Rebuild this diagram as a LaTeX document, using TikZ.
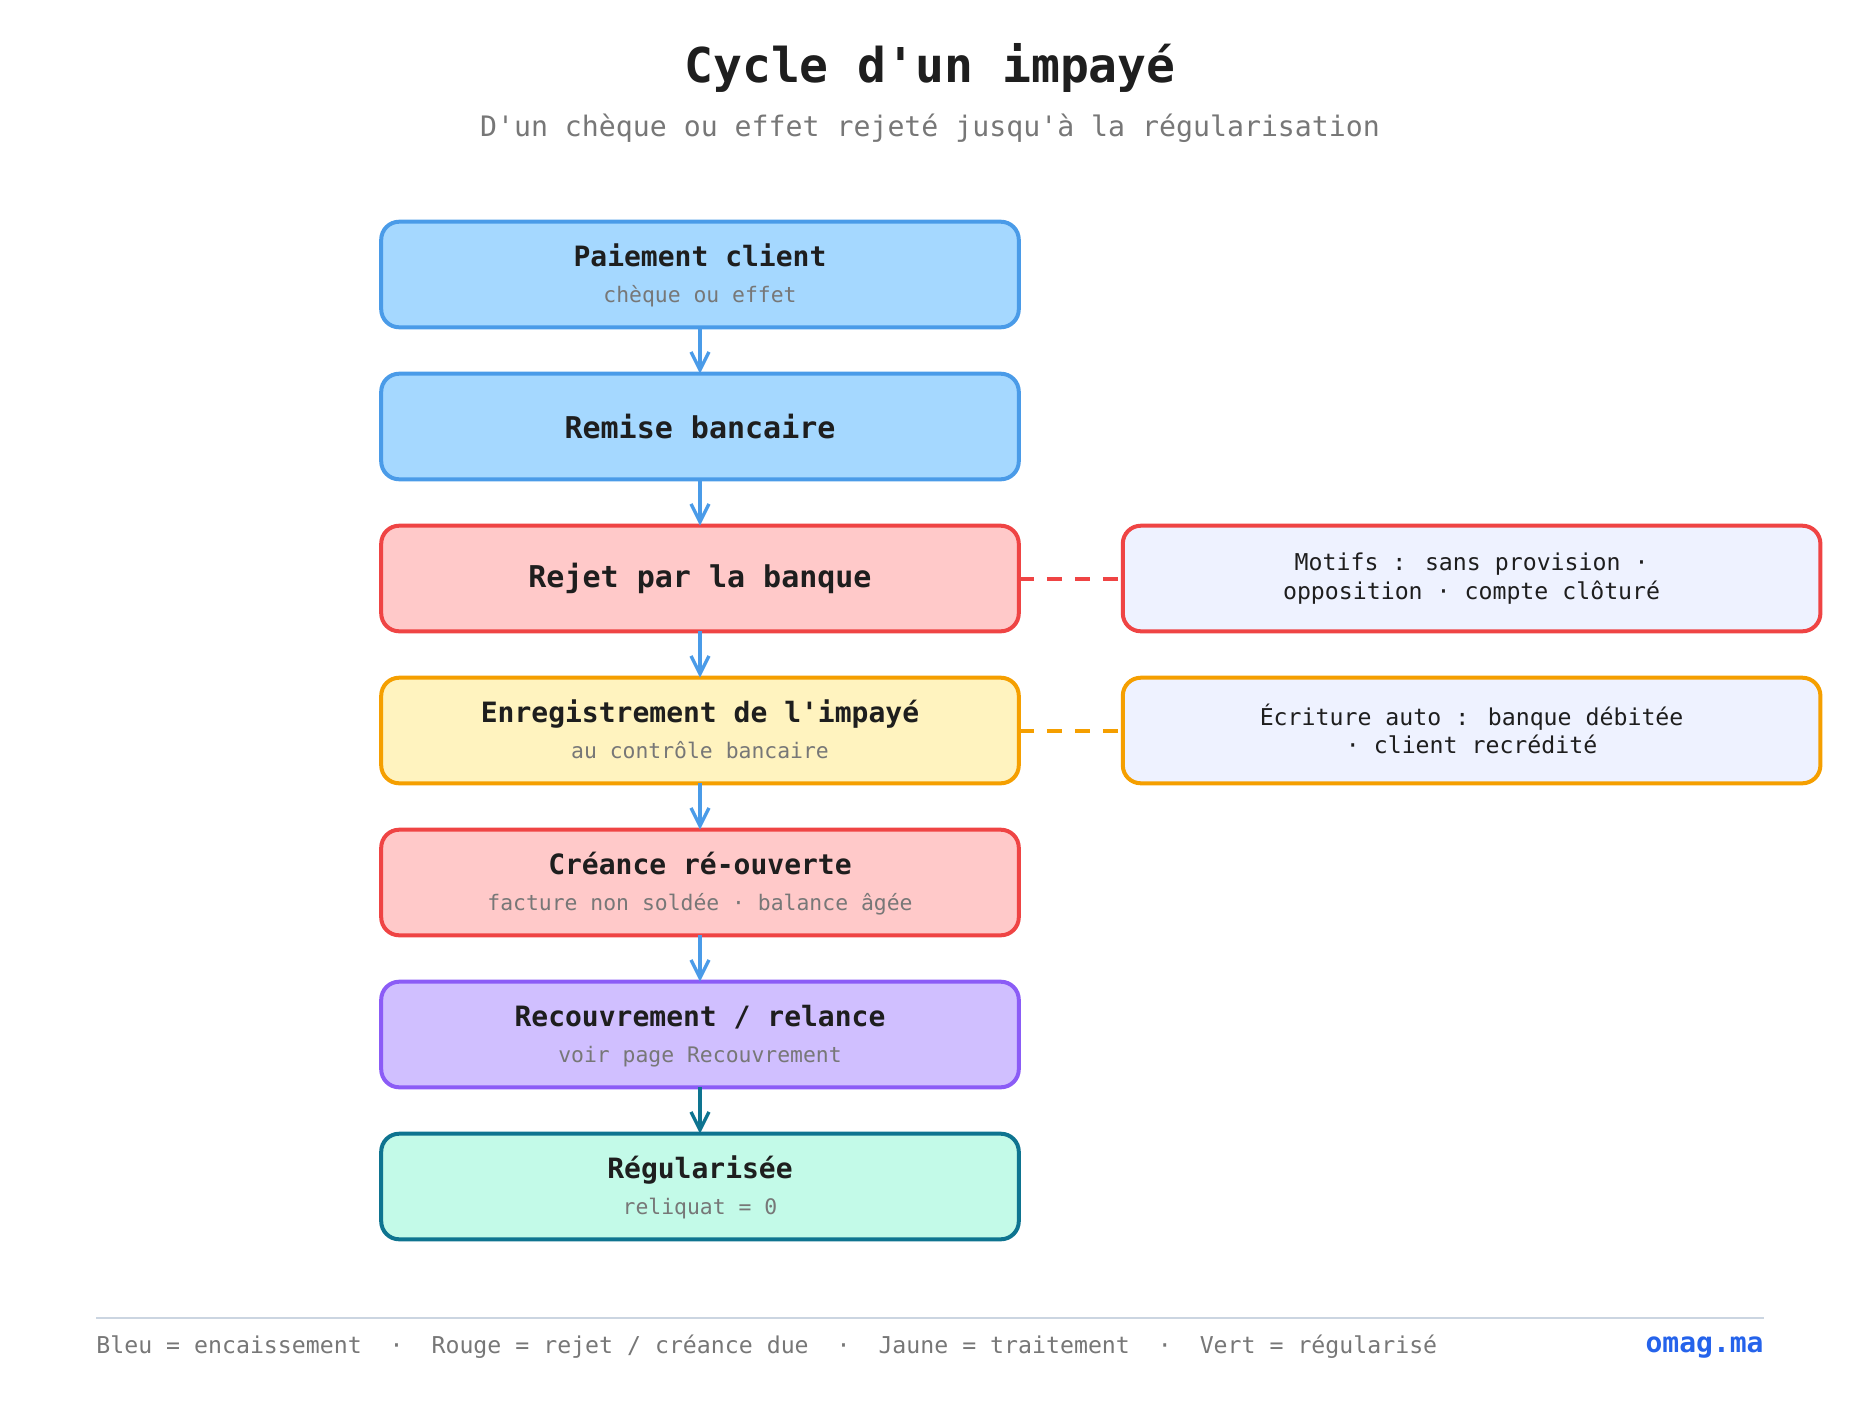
\documentclass[tikz,border=0pt]{standalone}
\usepackage{fontspec}
\setmainfont{DejaVu Sans Mono}[Ligatures=TeXOff]
\definecolor{encblau}{HTML}{4A9BE8}
\definecolor{encfill}{HTML}{A5D8FF}
\definecolor{rejetrot}{HTML}{EF4444}
\definecolor{rejetfill}{HTML}{FFC9C9}
\definecolor{traitgelb}{HTML}{F59F00}
\definecolor{traitfill}{HTML}{FFF3BF}
\definecolor{relancelila}{HTML}{8B5CF6}
\definecolor{relancefill}{HTML}{D0BFFF}
\definecolor{regulteal}{HTML}{0E7490}
\definecolor{regulfill}{HTML}{C3FAE8}
\definecolor{notefill}{HTML}{EEF2FF}
\definecolor{titelgrau}{HTML}{1E1E1E}
\definecolor{subgrau}{HTML}{777777}
\definecolor{linie}{HTML}{CBD5E1}
\definecolor{omagblau}{HTML}{2563EB}
\usepackage{tikz}
\usetikzlibrary{arrows.meta, positioning}
\newcommand{\stufe}[2]{{\bfseries\rule{0pt}{13pt}#1}\\{\fontsize{10.7}{17.7}\selectfont\color{subgrau}\rule[-3pt]{0pt}{3pt}#2}}
\newcommand{\einzel}[1]{{\fontsize{15}{18}\selectfont\bfseries #1}}

\begin{document}
\begin{tikzpicture}[x=0.5pt, y=-0.5pt, node distance=23.2pt,
    stepbox/.style={draw, rounded corners=9pt, line width=2pt, outer sep=0pt,
      minimum width=318.8pt, minimum height=52.8pt, align=center, text=titelgrau,
      font=\fontsize{14}{17.7}\selectfont},
    notebox/.style={stepbox, fill=notefill, minimum width=348.8pt,
      font=\fontsize{11.6}{14.2}\selectfont},
    fluss/.style={-{Straight Barb[length=9pt, width=9pt]}, line width=1.7pt, encblau},
    verweis/.style={dash pattern=on 7.5pt off 6.5pt, line width=2pt}]
  \useasboundingbox (0,0) rectangle (1860,1420);
  % Titel
  \node[font=\fontsize{24}{28}\selectfont\bfseries, text=titelgrau] (titel) at (930,67.5)
    {Cycle d'un impayé};
  \node[font=\fontsize{14.1}{17}\selectfont, text=subgrau] (untertitel) at (930,128.5)
    {D'un chèque ou effet rejeté jusqu'à la régularisation};
  % Ablauf
  \node[stepbox, draw=encblau, fill=encfill] (paiement) at (700,274.5)
    {\stufe{Paiement client}{chèque ou effet}};
  \node[stepbox, draw=encblau, fill=encfill, below=of paiement] (remise)
    {\einzel{Remise bancaire}};
  \node[stepbox, draw=rejetrot, fill=rejetfill, below=of remise] (rejet)
    {\einzel{Rejet par la banque}};
  \node[stepbox, draw=traitgelb, fill=traitfill, below=of rejet] (enreg)
    {\stufe{Enregistrement de l'impayé}{au contrôle bancaire}};
  \node[stepbox, draw=rejetrot, fill=rejetfill, below=of enreg] (creance)
    {\stufe{Créance ré-ouverte}{facture non soldée · balance âgée}};
  \node[stepbox, draw=relancelila, fill=relancefill, below=of creance] (relance)
    {\stufe{Recouvrement / relance}{voir page Recouvrement}};
  \node[stepbox, draw=regulteal, fill=regulfill, below=of relance] (regul)
    {\stufe{Régularisée}{reliquat = 0}};
  \draw[fluss] (paiement) -- (remise);
  \draw[fluss] (remise) -- (rejet);
  \draw[fluss] (rejet) -- (enreg);
  \draw[fluss] (enreg) -- (creance);
  \draw[fluss] (creance) -- (relance);
  \draw[fluss, regulteal] (relance) -- (regul);
  % Notes
  \node[notebox, draw=rejetrot, right=52pt of rejet] (motifs)
    {Motifs : sans provision ·\\opposition · compte clôturé};
  \node[notebox, draw=traitgelb, right=52pt of enreg] (ecriture)
    {\smash{É}criture auto : banque débitée\\· client recrédité};
  \draw[verweis, rejetrot] (rejet) -- (motifs);
  \draw[verweis, traitgelb] (enreg) -- (ecriture);
  % Legende
  \draw[linie, line width=1.2pt] (96,1318) coordinate (fussl) -- (1764,1318) coordinate (fussr);
  \node[anchor=west, inner sep=0pt, text=subgrau, font=\fontsize{11.6}{14}\selectfont] (legende) at (96,1346.5)
    {Bleu = encaissement~~·~~Rouge = rejet / créance due~~·~~Jaune = traitement~~·~~Vert = régularisé};
  \node[anchor=east, inner sep=0pt, text=omagblau, font=\fontsize{14}{17}\selectfont\bfseries] (omag) at (1764,1348)
    {omag.ma};
\end{tikzpicture}
\end{document}
